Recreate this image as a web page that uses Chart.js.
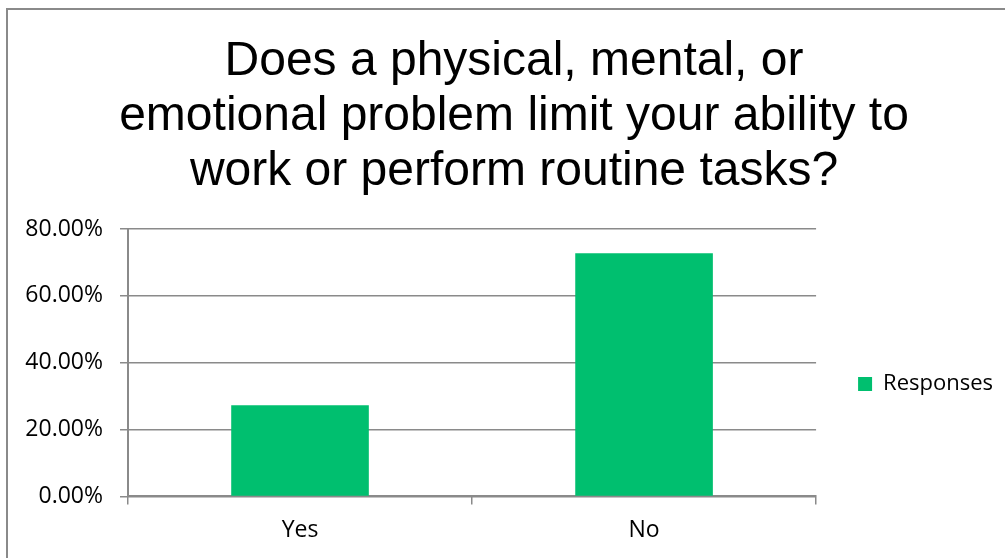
<!DOCTYPE html>
<html>
<head>
<meta charset="utf-8">
<script src="https://cdn.jsdelivr.net/npm/chart.js@4.4.0/dist/chart.umd.min.js"></script>
<style>
    html, body { margin: 0; padding: 0; background: #fff; overflow: hidden; }
    .wrap { position: relative; width: 1005px; height: 558px; }
    .frame {
        position: absolute; left: 6px; top: 8px;
        width: 1100px; height: 700px;
        border: 2px solid #8a8a8a;
    }
    canvas { position: absolute; left: 0; top: 0; }
</style>
</head>
<body>
<div class="wrap">
    <div class="frame"></div>
    <canvas id="chart" width="1005" height="558"></canvas>
</div>
<script>
const titleLines = ['Does a physical, mental, or', 'emotional problem limit your ability to', 'work or perform routine tasks?']
const categories = ['Yes', 'No']
const responses  = [0.2727, 0.7273]
const yTicks     = [0, 0.2, 0.4, 0.6, 0.8]

const gray = '#8a8a8a'

let ctx = document.getElementById('chart').getContext('2d')

new Chart(ctx, {
    type: 'bar',
    data: {
        labels: categories,
        datasets: [{
            label: 'Responses',
            data: responses,
            backgroundColor: '#00bf6f',
            barPercentage: 0.4,
            categoryPercentage: 1
        }]
    },
    options: {
        responsive: false,
        animation: false,
        layout: { padding: { left: 25, right: 2, top: 0, bottom: 2 } },
        plugins: {
            title: {
                display: true,
                text: titleLines,
                color: '#000',
                font: { family: 'Liberation Sans', size: 48, weight: 'normal', lineHeight: 1.146 },
                padding: { top: 34, bottom: 30 }
            },
            legend: {
                position: 'right',
                align: 'start',
                // blank title, only there to push the entry down
                title: { display: true, text: ' ', font: { size: 10, lineHeight: 1 }, padding: { top: 321, bottom: 0 } },
                labels: {
                    color: '#000',
                    font: { family: 'Open Sans', size: 22 },
                    boxWidth: 14,
                    boxHeight: 14,
                    padding: 42
                }
            },
            tooltip: { enabled: false }
        },
        scales: {
            x: {
                offset: true,
                grid: { offset: true, drawOnChartArea: false, drawTicks: true, tickLength: 8, color: gray, lineWidth: 1.5 },
                border: { color: gray, width: 2 },
                ticks: { color: '#000', font: { family: 'Open Sans', size: 23 }, padding: 12 }
            },
            y: {
                min: 0,
                max: 0.8,
                afterBuildTicks: (axis) => { axis.ticks = yTicks.map(v => ({ value: v })) },
                afterFit: (axis) => { axis.width = 103 },
                grid: { color: gray, lineWidth: 1.5, tickLength: 8 },
                border: { color: gray, width: 2 },
                ticks: {
                    color: '#000',
                    font: { family: 'Open Sans', size: 23 },
                    padding: 17,
                    callback: (v) => (v * 100).toFixed(2) + '%'
                }
            }
        }
    }
})
</script>
</body>
</html>
